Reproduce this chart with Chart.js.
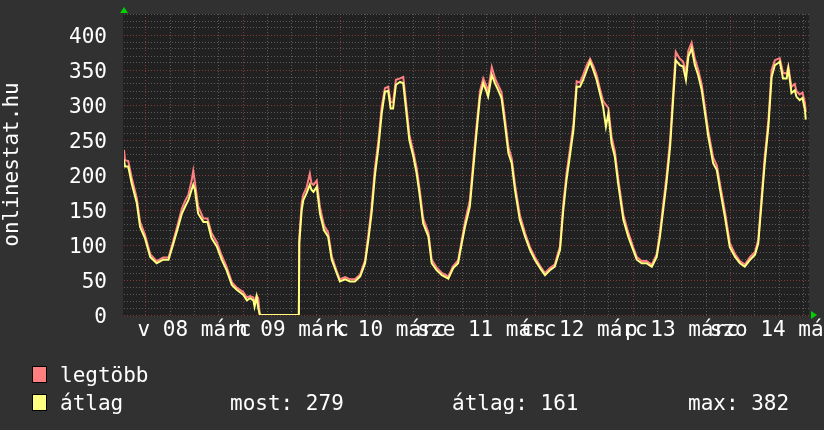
<!DOCTYPE html>
<html>
<head>
<meta charset="utf-8">
<script src="https://cdn.jsdelivr.net/npm/chart.js@4"></script>
<style>
body { margin: 0; background: #313131; }
#wrap { position: relative; width: 824px; height: 430px; }
.leg { position: absolute; font-family: 'DejaVu Sans Mono'; font-size: 21px; line-height: 24px; color: #fff; white-space: pre; }
.box { position: absolute; width: 13px; height: 15px; border: 1px solid #000; }
</style>
</head>
<body>
<div id="wrap">
  <canvas id="onlineChart" width="824" height="430"></canvas>
  <div class="box" style="left:32px;top:366px;background:#ff7f7f"></div>
  <div class="leg" style="left:60px;top:363px">legtöbb</div>
  <div class="box" style="left:32px;top:394px;background:#ffff7f"></div>
  <div class="leg" style="left:60px;top:391px">átlag</div>
  <div class="leg" style="left:230px;top:391px">most: 279</div>
  <div class="leg" style="left:452px;top:391px">átlag: 161</div>
  <div class="leg" style="left:688px;top:391px">max: 382</div>
</div>
<script>
// hours from 08 márc 00:00
const hours = [
  -5.35, -5.1, -4.3, -3.45, -2.2, -1.4, -0.2, 1.1, 2.7, 4.3, 5.6, 6.8, 8.0, 8.9, 9.7, 10.5, 11.3, 11.7, 12.1, 12.9,
  14.2, 15.2, 16.2, 17.5, 18.7, 19.9, 21.2, 22.4, 24.0, 24.9, 25.7, 26.5, 26.8, 27.3, 27.7, 28.1, 37.7, 37.8, 38.4, 38.8,
  39.6, 40.4, 40.8, 41.3, 42.1, 42.9, 43.9, 44.9, 45.8, 47.0, 47.8, 49.1, 50.3, 51.5, 52.8, 54.0, 54.8, 55.6, 56.4, 57.3,
  58.1, 58.9, 59.7, 60.3, 60.9, 61.6, 62.6, 63.4, 64.1, 64.9, 65.9, 66.7, 67.5, 68.3, 69.6, 70.4, 71.6, 72.9, 74.5, 75.7,
  76.9, 77.8, 78.6, 79.8, 80.6, 81.5, 82.3, 83.1, 83.8, 84.3, 85.2, 86.0, 86.8, 87.6, 88.4, 89.3, 90.1, 90.9, 92.1, 93.4,
  94.6, 95.8, 97.1, 98.3, 99.5, 100.7, 102.0, 102.8, 103.6, 104.4, 105.3, 106.1, 106.9, 107.7, 108.6, 109.4, 110.2, 111.0, 111.8, 112.6,
  113.3, 113.9, 114.7, 115.5, 116.3, 117.6, 118.8, 120.0, 120.9, 122.1, 123.3, 124.6, 125.8, 126.6, 127.4, 128.2, 129.1, 129.9, 130.5, 131.5,
  132.3, 133.0, 133.6, 134.4, 135.2, 136.0, 136.9, 137.7, 138.5, 139.7, 140.6, 141.4, 142.6, 143.8, 145.1, 146.3, 147.5, 148.8, 150.0, 150.8,
  151.6, 152.4, 153.3, 154.1, 154.9, 155.7, 156.1, 156.9, 157.8, 158.2, 159.0, 159.8, 160.2, 161.0, 161.7, 162.3, 162.5
];

// legtöbb (max)
const maxUsers = [
  236, 221, 220, 196, 167, 133, 115, 87, 77, 82, 82, 106, 132, 152, 163, 172, 192, 206, 190, 155,
  138, 138, 117, 104, 85, 69, 47, 39, 33, 25, 27, 25, 16, 28, 24, 0, 0, 110, 160, 172,
  182, 202, 188, 186, 192, 154, 128, 118, 84, 63, 51, 54, 51, 51, 58, 78, 114, 154, 208, 250,
  298, 324, 326, 304, 304, 336, 338, 340, 303, 258, 233, 210, 177, 138, 118, 79, 68, 60, 55, 70,
  78, 107, 133, 164, 216, 273, 320, 338, 328, 320, 354, 338, 328, 318, 283, 240, 224, 187, 143, 117,
  97, 83, 70, 60, 67, 72, 98, 158, 202, 235, 273, 334, 332, 343, 357, 366, 356, 343, 324, 306,
  300, 296, 254, 234, 196, 143, 118, 97, 83, 77, 77, 72, 87, 118, 158, 197, 250, 322, 376, 366,
  362, 346, 378, 389, 366, 351, 329, 296, 263, 225, 214, 187, 148, 103, 87, 77, 72, 83, 90, 107,
  167, 226, 278, 350, 364, 366, 367, 346, 345, 355, 326, 330, 320, 315, 318, 303, 290
];

// átlag
const avgUsers = [
  222, 212, 212, 188, 160, 126, 110, 83, 74, 79, 79, 102, 126, 145, 155, 164, 179, 186, 179, 145,
  133, 133, 110, 98, 79, 64, 43, 36, 29, 21, 24, 21, 12, 26, 10, 0, 0, 102, 150, 164,
  174, 186, 179, 176, 183, 145, 121, 112, 79, 60, 48, 51, 48, 48, 55, 74, 107, 145, 198, 240,
  288, 319, 320, 295, 295, 329, 333, 331, 293, 250, 226, 202, 169, 131, 112, 74, 64, 57, 52, 67,
  74, 102, 126, 155, 207, 264, 312, 331, 321, 312, 343, 331, 321, 310, 274, 231, 217, 179, 136, 112,
  93, 79, 67, 57, 64, 69, 93, 150, 193, 226, 264, 326, 326, 336, 350, 362, 350, 336, 317, 298,
  269, 288, 245, 226, 188, 136, 112, 93, 79, 74, 74, 69, 83, 112, 150, 188, 240, 312, 364, 357,
  355, 336, 369, 381, 357, 343, 321, 288, 255, 217, 207, 179, 140, 97, 83, 74, 69, 79, 86, 102,
  159, 217, 269, 340, 357, 360, 362, 338, 338, 352, 317, 321, 312, 307, 310, 293, 279
];

const dayLabels = ['v 08 márc', 'h 09 márc', 'k 10 márc', 'sze 11 márc', 'cs 12 márc', 'p 13 márc', 'szo 14 márc'];
const yLabels = [0, 50, 100, 150, 200, 250, 300, 350, 400];

const hourTicks = [];
for (let h = 0; h <= 162; h += 6) hourTicks.push(h);
const yTicks = [];
for (let v = 0; v <= 430; v += 10) yTicks.push(v);

const gridGray = 'rgba(110,110,110,0.75)';
const gridRed = 'rgba(150,60,60,0.85)';
const axisFont = { family: 'DejaVu Sans Mono', size: 21 };

const rrdLook = {
  id: 'rrdLook',
  beforeDraw(chart) {
    const { ctx, chartArea: a } = chart;
    ctx.save();
    ctx.fillStyle = '#212121';
    ctx.fillRect(a.left - 1, a.top, a.right - a.left + 1, a.bottom - a.top + 1);
    ctx.restore();
  },
  afterDraw(chart) {
    const { ctx, chartArea: a } = chart;
    ctx.save();
    ctx.fillStyle = '#00d000';
    ctx.beginPath();
    ctx.moveTo(a.left - 4, a.top - 1);
    ctx.lineTo(a.left + 4, a.top - 1);
    ctx.lineTo(a.left, a.top - 7);
    ctx.fill();
    ctx.beginPath();
    ctx.moveTo(a.right + 2, a.bottom - 4);
    ctx.lineTo(a.right + 2, a.bottom + 4);
    ctx.lineTo(a.right + 8, a.bottom);
    ctx.fill();
    ctx.restore();
  }
};

const ctx = document.getElementById('onlineChart').getContext('2d');
const onlineChart = new Chart(ctx, {
  type: 'line',
  data: {
    datasets: [{
      label: 'átlag',
      data: hours.map((h, i) => ({ x: h, y: avgUsers[i] })),
      borderColor: '#ffff80',
      borderWidth: 2,
      pointRadius: 0,
      order: 0
    }, {
      label: 'legtöbb',
      data: hours.map((h, i) => ({ x: h, y: maxUsers[i] })),
      borderColor: '#ff8080',
      borderWidth: 2,
      pointRadius: 0,
      order: 1
    }]
  },
  options: {
    responsive: false,
    animation: false,
    layout: { padding: { top: 14, right: 15, bottom: 75, left: 0 } },
    elements: { line: { tension: 0 } },
    plugins: { legend: { display: false }, tooltip: { enabled: false } },
    scales: {
      x: {
        type: 'linear',
        min: -5.35,
        max: 163.3,
        afterBuildTicks: s => { s.ticks = hourTicks.map(v => ({ value: v })); },
        afterFit: s => { s.height = 40; s.paddingLeft = 0; s.paddingRight = 0; },
        grid: {
          color: c => (c.tick && c.tick.value % 24 === 0) ? gridRed : gridGray,
          lineWidth: 1,
          drawTicks: false
        },
        border: { display: false, dash: [1, 2] },
        ticks: {
          autoSkip: false,
          maxRotation: 0,
          minRotation: 0,
          padding: 3,
          color: '#ffffff',
          font: axisFont,
          callback: v => v % 24 === 12 ? dayLabels[(v - 12) / 24] : ''
        }
      },
      y: {
        min: 0,
        max: 430,
        afterBuildTicks: s => { s.ticks = yTicks.map(v => ({ value: v })); },
        afterFit: s => { s.width = 124; s.paddingTop = 0; s.paddingBottom = 0; },
        grid: {
          color: c => (c.tick && c.tick.value % 50 === 0) ? gridRed : gridGray,
          lineWidth: 1,
          drawTicks: false
        },
        border: { display: false, dash: [1, 2] },
        ticks: {
          autoSkip: false,
          padding: 17,
          labelOffset: 3,
          color: '#ffffff',
          font: axisFont,
          callback: v => yLabels.includes(v) ? v : ''
        },
        title: {
          display: true,
          text: 'onlinestat.hu',
          color: '#ffffff',
          font: axisFont,
          padding: { top: 0, bottom: 0 }
        }
      }
    }
  },
  plugins: [rrdLook]
});
</script>
</body>
</html>
